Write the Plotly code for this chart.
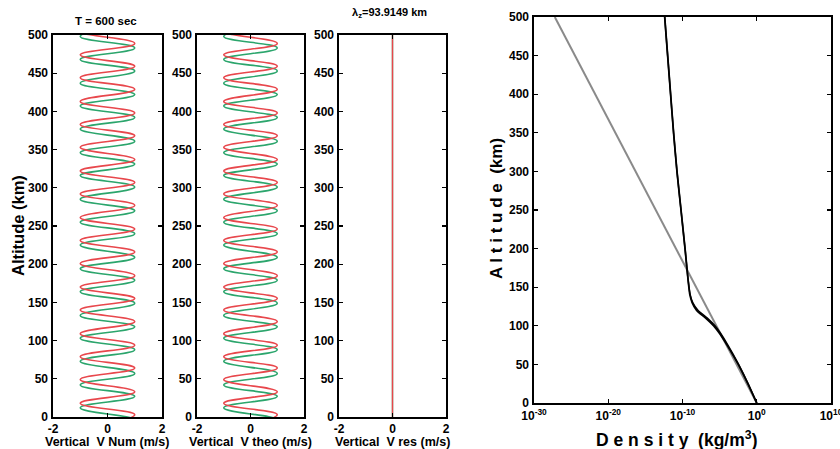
import plotly.graph_objects as go

W, H = 840, 449

# ---- data ----
# altitudes (km) of the extrema of the numerical / theoretical wave, and their velocity (m/s)
red_alt = [-12, 3, 18, 33, 49, 64, 79, 94, 109, 125, 140, 155, 170, 185, 201, 216, 231, 246,
           261, 277, 292, 307, 322, 337, 353, 368, 383, 398, 413, 429, 444, 459, 474, 489, 505, 520]
red_v = [-1, 1, -1, 1, -1, 1, -1, 1, -1, 1, -1, 1, -1, 1, -1, 1, -1, 1,
         -1, 1, -1, 1, -1, 1, -1, 1, -1, 1, -1, 1, -1, 1, -1, 1, -1, 1]
green_alt = [-19, -4, 12, 27, 42, 57, 73, 88, 103, 118, 133, 149, 164, 179, 194, 209, 225, 240,
             255, 270, 285, 301, 316, 331, 346, 361, 377, 392, 407, 422, 437, 453, 468, 483, 498, 513]
green_v = [-1, 1, -1, 1, -1, 1, -1, 1, -1, 1, -1, 1, -1, 1, -1, 1, -1, 1,
           -1, 1, -1, 1, -1, 1, -1, 1, -1, 1, -1, 1, -1, 1, -1, 1, -1, 1]
res_alt = [0, 500]
res_v = [0, 0]

dens_alt = [0, 25, 50, 75, 90, 100, 110, 120, 130, 140, 160, 180, 200, 250, 300, 350, 400, 450, 500]
dens_black1 = [1.0, 6.3e-2, 3.2e-3, 1.0e-4, 1.0e-5, 1.6e-6, 1.3e-7, 8.0e-9, 2.0e-9, 1.0e-9,
               5.6e-10, 3.5e-10, 2.2e-10, 6.3e-11, 1.8e-11, 6.3e-12, 2.5e-12, 1.0e-12, 4.0e-13]
dens_black2 = [1.0, 7.0e-2, 3.6e-3, 1.3e-4, 1.4e-5, 2.4e-6, 2.2e-7, 1.2e-8, 2.4e-9, 1.1e-9,
               5.6e-10, 3.5e-10, 2.2e-10, 6.3e-11, 1.8e-11, 6.3e-12, 2.5e-12, 1.0e-12, 4.0e-13]
gray_alt = [0, 500]
gray_dens = [1.0, 6.3e-28]

alt_ticks = [0, 50, 100, 150, 200, 250, 300, 350, 400, 450, 500]
v_ticks = [-2, 0, 2]
dens_tickvals = [1e-30, 1e-20, 1e-10, 1, 1e10]
dens_ticktext = ["10<sup>-30</sup>", "10<sup>-20</sup>", "10<sup>-10</sup>", "10<sup>0</sup>", "10<sup>10</sup>"]

panel_xlabels = ["Vertical  V Num (m/s)", "Vertical  V theo (m/s)", "Vertical  V res (m/s)"]

RED = "#e8474c"
GREEN = "#2ba56c"
FONT = "Liberation Sans"


def px_x(p):
    return p / W


def px_y(p):
    return (H - p) / H


fig = go.Figure()

# left panels
for i in range(3):
    xa = "x" if i == 0 else f"x{i+1}"
    ya = "y" if i == 0 else f"y{i+1}"
    if i < 2:
        fig.add_trace(go.Scatter(x=green_v, y=green_alt, mode="lines",
                                 line=dict(color=GREEN, width=1.6, shape="spline", smoothing=1.3),
                                 xaxis=xa, yaxis=ya, showlegend=False, hoverinfo="skip"))
        fig.add_trace(go.Scatter(x=red_v, y=red_alt, mode="lines",
                                 line=dict(color=RED, width=1.6, shape="spline", smoothing=1.3),
                                 xaxis=xa, yaxis=ya, showlegend=False, hoverinfo="skip"))
    else:
        fig.add_trace(go.Scatter(x=res_v, y=res_alt, mode="lines", line=dict(color=GREEN, width=1.4),
                                 xaxis=xa, yaxis=ya, showlegend=False, hoverinfo="skip"))
        fig.add_trace(go.Scatter(x=res_v, y=res_alt, mode="lines", line=dict(color=RED, width=1.4),
                                 xaxis=xa, yaxis=ya, showlegend=False, hoverinfo="skip"))

# right panel
fig.add_trace(go.Scatter(x=gray_dens, y=gray_alt, mode="lines", line=dict(color="#8a8a8a", width=2),
                         xaxis="x4", yaxis="y4", showlegend=False, hoverinfo="skip"))
fig.add_trace(go.Scatter(x=dens_black2, y=dens_alt, mode="lines",
                         line=dict(color="black", width=1.5, shape="spline", smoothing=0.6),
                         xaxis="x4", yaxis="y4", showlegend=False, hoverinfo="skip"))
fig.add_trace(go.Scatter(x=dens_black1, y=dens_alt, mode="lines",
                         line=dict(color="black", width=1.8, shape="spline", smoothing=0.6),
                         xaxis="x4", yaxis="y4", showlegend=False, hoverinfo="skip"))

tickfont = dict(family=FONT, size=12, color="black", weight="bold")
common = dict(showline=True, linecolor="black", linewidth=1.6, mirror="ticks", ticks="inside",
              ticklen=4, tickwidth=1.3, tickcolor="black", showgrid=False, zeroline=False,
              tickfont=tickfont, fixedrange=True, automargin=False, ticklabelstandoff=1)

left_dom = [(53, 162), (197, 304), (339, 446)]
ydom_left = [px_y(417), px_y(35)]
layout = dict(
    template="none",
    width=W, height=H, margin=dict(l=0, r=0, t=0, b=0, pad=0, autoexpand=False),
    paper_bgcolor="white", plot_bgcolor="white",
    font=dict(family=FONT, color="black"),
    showlegend=False,
)
for i, (a, b) in enumerate(left_dom):
    xk = "xaxis" if i == 0 else f"xaxis{i+1}"
    yk = "yaxis" if i == 0 else f"yaxis{i+1}"
    anchor_x = "y" if i == 0 else f"y{i+1}"
    anchor_y = "x" if i == 0 else f"x{i+1}"
    layout[xk] = dict(common, domain=[px_x(a), px_x(b)], range=[-2, 2], tickvals=v_ticks,
                      ticktext=["-2", "0", "2"], anchor=anchor_x, ticklabelstandoff=0)
    layout[yk] = dict(common, domain=ydom_left, range=[0, 500], tickvals=alt_ticks, anchor=anchor_y)

layout["xaxis4"] = dict(common, domain=[px_x(534), px_x(831)], type="log", range=[-30, 10],
                        tickvals=dens_tickvals, ticktext=dens_ticktext, anchor="y4",
                        ticklabeloverflow="allow")
layout["yaxis4"] = dict(common, domain=[px_y(403), px_y(17)], range=[0, 500], tickvals=alt_ticks, anchor="x4")

fig.update_layout(**layout)

ann = []


def bold(s):
    return dict(family=FONT, size=s, color="black", weight="bold")


for (a, b), lab in zip(left_dom, panel_xlabels):
    ann.append(dict(x=px_x((a + b) / 2), y=px_y(442), xref="paper", yref="paper", text=lab,
                    showarrow=False, font=bold(12.5), xanchor="center", yanchor="middle"))
ann.append(dict(x=px_x(18), y=px_y(226), xref="paper", yref="paper", text="Altitude (km)",
                showarrow=False, font=bold(16.5), textangle=-90, xanchor="center", yanchor="middle"))
ann.append(dict(x=px_x(106), y=px_y(21), xref="paper", yref="paper", text="T = 600 sec",
                showarrow=False, font=bold(11.5), xanchor="center", yanchor="middle"))
ann.append(dict(x=px_x(389), y=px_y(13), xref="paper", yref="paper", text="λ<sub>z</sub>=93.9149 km",
                showarrow=False, font=bold(11), xanchor="center", yanchor="middle"))
ann.append(dict(x=px_x(497), y=px_y(209), xref="paper", yref="paper", text="A l t i t u d e  (km)",
                showarrow=False, font=bold(17), textangle=-90, xanchor="center", yanchor="middle"))
ann.append(dict(x=px_x(676), y=px_y(439), xref="paper", yref="paper", text="D e n s i t y  (kg/m<sup>3</sup>)",
                showarrow=False, font=bold(17.5), xanchor="center", yanchor="middle"))
fig.update_layout(annotations=ann)

fig.write_html("out.html", config={"displayModeBar": False, "staticPlot": True},
               post_script="document.body.style.margin='0';document.body.style.overflow='hidden';")
